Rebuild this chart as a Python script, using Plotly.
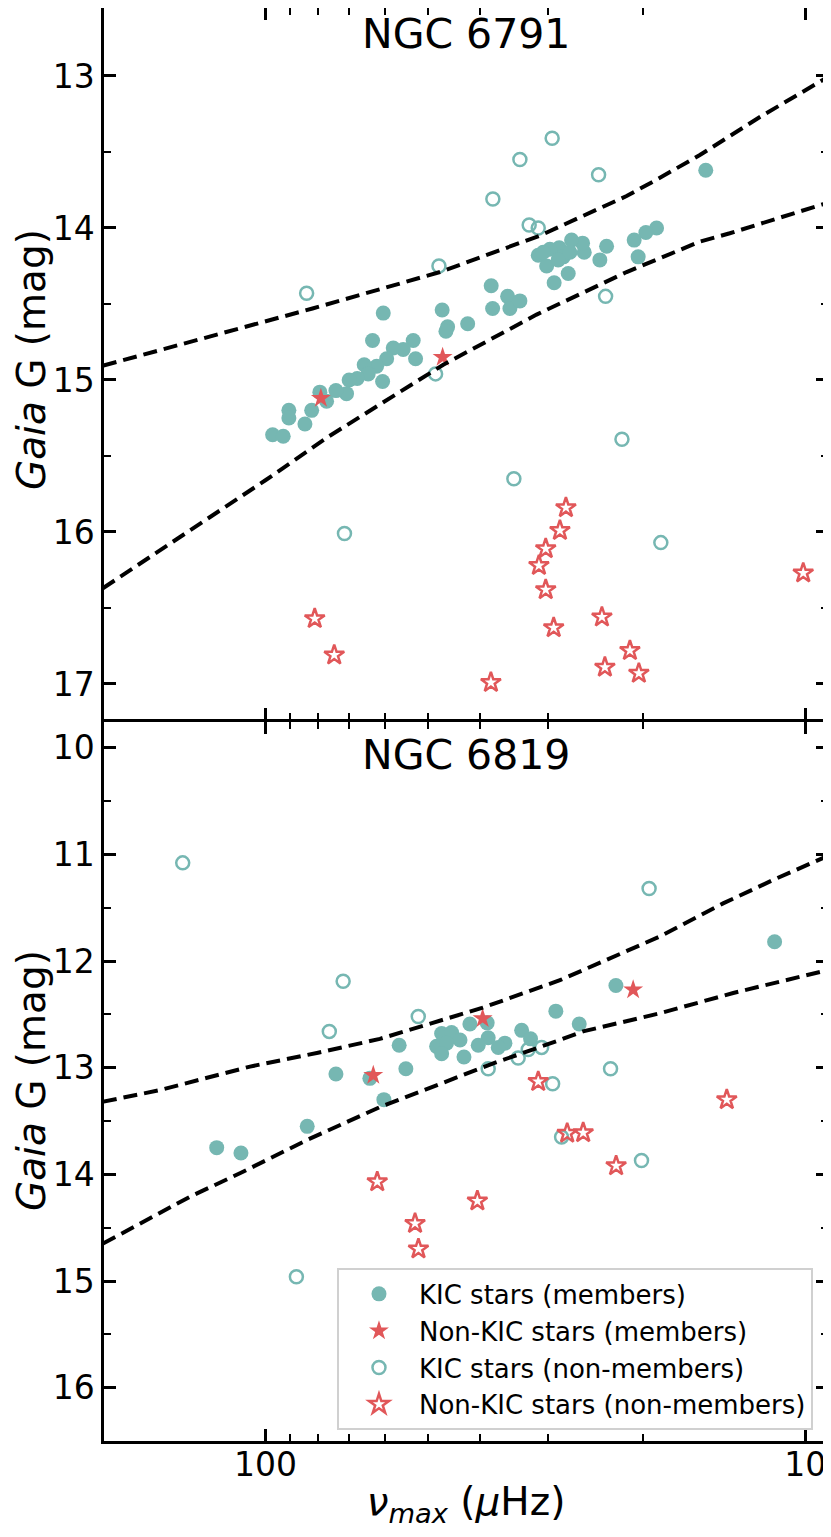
import plotly.graph_objects as go

# --- NGC 6791 (top panel): nu_max [muHz], Gaia G [mag] ---
kic_mem_6791_numax = [15.29, 18.86, 19.74, 20.75, 20.40, 23.34, 24.02, 25.68, 25.86, 27.10,
                      28.57, 29.73, 31.24, 30.14, 28.08, 27.49, 29.19, 30.58, 28.69, 27.29,
                      38.18, 37.95, 35.60, 35.25, 33.78, 47.06, 45.98, 46.31, 42.21, 60.50,
                      63.33, 53.25, 52.71, 55.57, 57.98, 59.63, 60.67, 62.24, 65.62, 64.51,
                      67.61, 69.98, 70.76, 74.03, 77.04, 79.29, 82.10, 84.50, 90.49, 90.49,
                      96.98, 92.69]
kic_mem_6791_g = [13.62, 14.00, 14.03, 14.08, 14.19, 14.12, 14.21, 14.16, 14.10, 14.08,
                  14.13, 14.14, 14.18, 14.25, 14.19, 14.30, 14.36, 14.16, 14.21, 14.16,
                  14.38, 14.53, 14.45, 14.53, 14.48, 14.54, 14.65, 14.68, 14.63, 14.56,
                  14.74, 14.74, 14.86, 14.80, 14.79, 14.86, 15.01, 14.91, 14.90, 14.96,
                  14.99, 15.00, 15.09, 15.07, 15.14, 15.08, 15.20, 15.29, 15.20, 15.25,
                  15.36, 15.37]
nonkic_mem_6791_numax = [78.94, 46.97]
nonkic_mem_6791_g = [15.12, 14.85]
kic_non_6791_numax = [29.44, 33.78, 24.15, 37.91, 32.47, 31.24, 47.71, 83.89, 23.44, 48.40,
                      21.86, 34.66, 71.38, 18.52]
kic_non_6791_g = [13.41, 13.55, 13.65, 13.81, 13.98, 14.00, 14.25, 14.43, 14.45, 14.96,
                  15.39, 15.65, 16.01, 16.07]
nonkic_non_6791_numax = [27.76, 28.48, 30.26, 31.15, 30.26, 29.25, 23.81, 21.13, 23.51, 20.34,
                         38.23, 81.04, 74.57, 10.09]
nonkic_non_6791_g = [15.84, 15.99, 16.11, 16.22, 16.38, 16.63, 16.56, 16.78, 16.89, 16.93,
                     16.99, 16.57, 16.81, 16.27]
upper_6791_numax = [200, 105.3, 81.8, 47.5, 31.0, 28.48, 21.43, 18.59, 15.68, 12.14, 9.01]
upper_6791_g = [14.906, 14.64, 14.53, 14.29, 14.05, 13.99, 13.79, 13.67, 13.52, 13.27, 13.0]
lower_6791_numax = [200, 100, 77.0, 52.1, 46.84, 31.46, 21.43, 15.68, 13.80, 9.01]
lower_6791_g = [16.37, 15.66, 15.38, 15.0, 14.90, 14.57, 14.29, 14.09, 14.035, 13.83]

# --- NGC 6819 (bottom panel) ---
kic_mem_6819_numax = [22.43, 28.98, 26.23, 33.53, 32.28, 41.81, 38.67, 36.01, 37.05, 40.35,
                      47.17, 45.21, 43.61, 48.19, 46.19, 47.17, 42.88, 38.84, 56.53, 54.94,
                      74.03, 64.06, 60.34, 83.67, 123.1, 111.0, 11.40]
kic_mem_6819_g = [12.23, 12.47, 12.59, 12.65, 12.73, 12.59, 12.72, 12.77, 12.81, 12.79,
                  12.68, 12.67, 12.74, 12.80, 12.77, 12.87, 12.90, 12.58, 12.79, 13.01,
                  13.06, 13.10, 13.30, 13.55, 13.75, 13.80, 11.82]
nonkic_mem_6819_numax = [63.13, 39.60, 20.84]
nonkic_mem_6819_g = [13.07, 12.54, 12.27]
kic_non_6819_numax = [142.3, 19.47, 71.79, 76.15, 52.11, 38.67, 34.03, 32.60, 30.79, 29.38,
                      22.95, 28.28, 20.11, 87.63]
kic_non_6819_g = [11.08, 11.32, 12.19, 12.66, 12.52, 13.01, 12.91, 12.83, 12.81, 13.15,
                  13.01, 13.65, 13.87, 14.96]
nonkic_non_6819_numax = [31.24, 27.61, 25.79, 22.41, 62.07, 40.50, 52.83, 52.07, 13.98]
nonkic_non_6819_g = [13.13, 13.615, 13.61, 13.92, 14.07, 14.25, 14.46, 14.70, 13.30]
upper_6819_numax = [200, 156.8, 106.8, 79.9, 61.38, 39.7, 28.48, 23.3, 18.59, 14.20, 11.47, 9.01]
upper_6819_g = [13.32, 13.21, 12.99, 12.86, 12.73, 12.44, 12.18, 11.99, 11.77, 11.46, 11.24, 11.006]
lower_6819_numax = [200, 138.0, 111.5, 83.9, 61.38, 37.85, 28.48, 25.8, 18.59, 13.60, 9.01]
lower_6819_g = [14.65, 14.21, 13.99, 13.68, 13.37, 12.96, 12.74, 12.66, 12.49, 12.30, 12.08]

TEAL = '#76b7b2'
RED = '#e15759'
FONT = 'DejaVu Sans'

names = ['KIC stars (members)', 'Non-KIC stars (members)',
         'KIC stars (non-members)', 'Non-KIC stars (non-members)']
styles = [
    {'symbol': 'circle', 'size': 15, 'color': TEAL, 'line': {'width': 0}},
    {'symbol': 'star', 'size': 15, 'color': RED, 'line': {'width': 0}},
    {'symbol': 'circle-open', 'size': 13, 'color': TEAL, 'line': {'width': 2.5, 'color': TEAL}},
    {'symbol': 'star-open', 'size': 15, 'color': RED, 'line': {'width': 2.5, 'color': RED}},
]

panels = [
    ('x2', 'y', [(kic_mem_6791_numax, kic_mem_6791_g), (nonkic_mem_6791_numax, nonkic_mem_6791_g),
                 (kic_non_6791_numax, kic_non_6791_g), (nonkic_non_6791_numax, nonkic_non_6791_g)],
     [(upper_6791_numax, upper_6791_g), (lower_6791_numax, lower_6791_g)], False),
    ('x', 'y2', [(kic_mem_6819_numax, kic_mem_6819_g), (nonkic_mem_6819_numax, nonkic_mem_6819_g),
                 (kic_non_6819_numax, kic_non_6819_g), (nonkic_non_6819_numax, nonkic_non_6819_g)],
     [(upper_6819_numax, upper_6819_g), (lower_6819_numax, lower_6819_g)], True),
]

fig = go.Figure()
for xa, ya, groups, curves, leg in panels:
    for (nx, g), name, st in zip(groups, names, styles):
        fig.add_trace(go.Scatter(x=nx, y=g, xaxis=xa, yaxis=ya, mode='markers', name=name,
                                 marker=st, showlegend=leg))
    for nx, g in curves:
        fig.add_trace(go.Scatter(x=nx, y=g, xaxis=xa, yaxis=ya, mode='lines', showlegend=False,
                                 line={'color': 'black', 'width': 4, 'dash': '14px,7px'}))

# page has an 8px body margin, so the figure is kept a bit smaller than the window
W, H = 823, 1521
PH = 1433  # plot area height

tickfont = {'family': FONT, 'size': 33, 'color': 'black'}
titlefont = {'family': FONT, 'size': 39, 'color': 'black'}
xcommon = dict(type='log', range=[2.299, 0.958], showline=True, linecolor='black', linewidth=2.5,
               mirror='allticks', ticks='inside', ticklen=12, tickwidth=2.5, tickcolor='black',
               tickvals=[10, 100], ticktext=['10', '100'], showgrid=False, zeroline=False,
               tickfont=tickfont, automargin=False,
               minor=dict(tickmode='array', tickvals=[20, 30, 40, 50, 60, 70, 80, 90],
                          ticks='inside', ticklen=7, tickwidth=2, tickcolor='black', showgrid=False))
ycommon = dict(showline=True, linecolor='black', linewidth=2.5, mirror='allticks',
               ticks='inside', ticklen=12, tickwidth=2.5, tickcolor='black', dtick=1,
               showgrid=False, zeroline=False, tickfont=tickfont, ticklabelstandoff=0,
               automargin=False,
               minor=dict(dtick=0.5, ticks='inside', ticklen=7, tickwidth=2, tickcolor='black',
                          showgrid=False))

ytitle = '<i>Gaia</i> G (mag)'
annotations = [
    dict(text='NGC 6791', x=0.5, y=1 - 26 / PH, font=dict(family=FONT, size=41, color='black')),
    dict(text='NGC 6819', x=0.5, y=1 - 747 / PH, font=dict(family=FONT, size=41, color='black')),
    dict(text=ytitle, x=-73 / 724, y=1 - 352 / PH, textangle=-90, font=titlefont),
    dict(text=ytitle, x=-73 / 724, y=1 - 1073 / PH, textangle=-90, font=titlefont),
]
for a in annotations:
    a.update(xref='paper', yref='paper', showarrow=False, xanchor='center', yanchor='middle')

fig.update_layout(
    width=W, height=H,
    margin=dict(l=96, r=3, t=0, b=H - PH, autoexpand=False),
    paper_bgcolor='white', plot_bgcolor='white',
    font=dict(family=FONT, color='black'),
    xaxis=dict(xcommon, anchor='y2', domain=[0, 1], ticklabelstandoff=-7,
               title=dict(text='<i>ν<sub>max</sub></i> (<i>μ</i>Hz)', font=titlefont, standoff=27)),
    xaxis2=dict(xcommon, anchor='y', matches='x', showticklabels=False),
    yaxis=dict(ycommon, anchor='x2', domain=[1 - 711.25 / PH, 1], range=[17.232, 12.553]),
    yaxis2=dict(ycommon, anchor='x', domain=[0, 1 - 713.75 / PH], range=[16.5, 9.757]),
    legend=dict(x=0.3218, y=0.1204, xanchor='left', yanchor='top', itemwidth=70,
                bgcolor='rgba(255,255,255,0.8)', bordercolor='#d0d0d0', borderwidth=2,
                font=dict(family=FONT, size=26, color='black'), tracegroupgap=0),
    annotations=annotations,
)

fig.write_html('out.html')
